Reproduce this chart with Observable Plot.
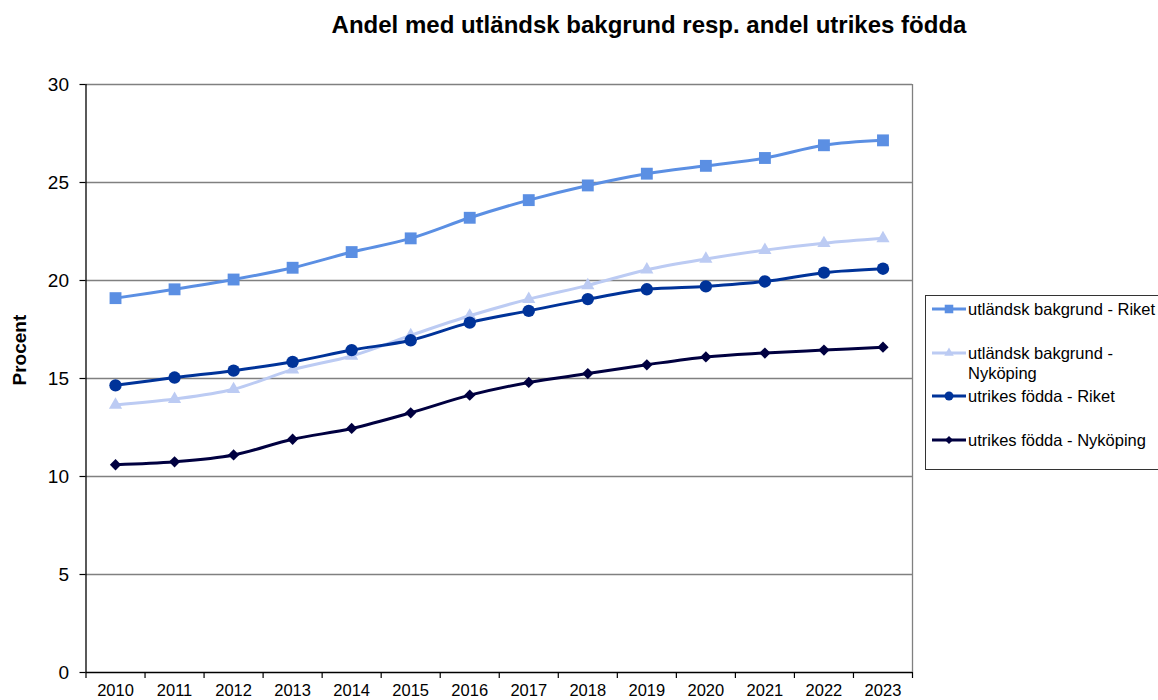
<!DOCTYPE html>
<html>
<head>
<meta charset="utf-8">
<script src="https://cdn.jsdelivr.net/npm/d3@7"></script>
<script src="https://cdn.jsdelivr.net/npm/@observablehq/plot@0.6"></script>
<style>
  body { margin: 0; background: #fff; font-family: "Liberation Sans", Arial, sans-serif; }
  #wrap { position: relative; width: 1158px; height: 700px; overflow: hidden; background: #fff; }
  #title { height: 60px; position: relative; }
  #title span { position: absolute; left: 649px; top: 13px; transform: translateX(-50%); white-space: nowrap;
    font-weight: bold; font-size: 24px; line-height: 24px; color: #000; }
  #legend { position: absolute; left: 925px; top: 295px; width: 233px; height: 173px; border: 1px solid #333; background: #fff; }
  .entry { position: absolute; left: 0; width: 233px; }
  .entry svg { position: absolute; left: 5px; top: 0; }
  .entry .lab { position: absolute; left: 42px; top: 0; width: 192px; font-size: 16.5px; line-height: 20px; color: #000; }
</style>
</head>
<body>
<div id="wrap">
  <div id="title"><span>Andel med utländsk bakgrund resp. andel utrikes födda</span></div>
  <div id="chart"></div>
  <div id="legend"></div>
</div>
<script>
// ---- data ----
const years = [2010, 2011, 2012, 2013, 2014, 2015, 2016, 2017, 2018, 2019, 2020, 2021, 2022, 2023];
const seriesNames = [
  "utländsk bakgrund - Riket",
  "utländsk bakgrund - Nyköping",
  "utrikes födda - Riket",
  "utrikes födda - Nyköping"
];
const utlandskRiket    = [19.1, 19.55, 20.05, 20.65, 21.45, 22.15, 23.2, 24.1, 24.85, 25.45, 25.85, 26.25, 26.9, 27.15];
const utlandskNykoping = [13.65, 13.95, 14.45, 15.45, 16.15, 17.2, 18.2, 19.05, 19.75, 20.55, 21.1, 21.55, 21.9, 22.15];
const utrikesRiket     = [14.65, 15.05, 15.4, 15.85, 16.45, 16.95, 17.85, 18.45, 19.05, 19.55, 19.7, 19.95, 20.4, 20.6];
const utrikesNykoping  = [10.6, 10.75, 11.1, 11.9, 12.45, 13.25, 14.15, 14.8, 15.25, 15.7, 16.1, 16.3, 16.45, 16.6];
const yTicks = [0, 5, 10, 15, 20, 25, 30];
const yLabel = "Procent";

// ---- styles ----
const seriesValues = [utlandskRiket, utlandskNykoping, utrikesRiket, utrikesNykoping];
const colors = ["#5B8FE3", "#BCCBF3", "#003399", "#000040"];
const symbols = ["square", "triangle", "circle", "square"];
const radii = [6.7, 4.9, 6.2, 4.5];
const rotations = [0, 0, 0, 45];

const series = seriesNames.map((name, i) => ({
  name, color: colors[i], symbol: symbols[i], r: radii[i], rotate: rotations[i],
  rows: years.map((year, j) => ({ year, value: seriesValues[i][j], series: name }))
}));

const x0 = years[0] - 0.5, x1 = years[years.length - 1] + 0.5;
const boundaries = [...years.map(y => y - 0.5), x1];

const marks = [
  Plot.gridY(yTicks.filter(d => d > 0), { stroke: "#808080", strokeOpacity: 1, strokeWidth: 1.3 }),
  Plot.ruleX([x1], { stroke: "#808080", strokeWidth: 1.3 }),
  Plot.ruleX([x0], { stroke: "#000", strokeWidth: 1.3 }),
  Plot.ruleY([0], { stroke: "#000", strokeWidth: 1.3 }),
  Plot.axisY(yTicks, { tickSize: 6, tickPadding: 11, fontSize: 19, label: null, strokeWidth: 1.2 }),
  Plot.axisX(boundaries, { tickSize: 6, tickFormat: () => "", label: null, strokeWidth: 1.2 }),
  Plot.axisX(years, { tickSize: 0, tickPadding: 12, fontSize: 16.5, tickFormat: d => String(d), label: null })
];
for (const s of series) {
  marks.push(Plot.line(s.rows, { x: "year", y: "value", stroke: s.color, strokeWidth: 3, curve: "catmull-rom" }));
}
for (const s of series) {
  marks.push(Plot.dot(s.rows, { x: "year", y: "value", fill: s.color, stroke: "none", symbol: s.symbol, r: s.r, rotate: s.rotate }));
}
marks.push(Plot.text([yLabel], { frameAnchor: "left", dx: -66, dy: 7, rotate: -90, fontWeight: "bold", fontSize: 19, fill: "#000" }));

const chart = Plot.plot({
  width: 1158, height: 640,
  marginTop: 24, marginBottom: 28, marginLeft: 85.5, marginRight: 246,
  style: { fontFamily: "'Liberation Sans', Arial, sans-serif", background: "#fff", color: "#000", overflow: "visible" },
  x: { type: "linear", domain: [x0, x1], label: null },
  y: { domain: [0, 30], label: null },
  marks
});
document.getElementById("chart").appendChild(chart);

// ---- legend ----
const legend = document.getElementById("legend");
const symMap = { square: d3.symbolSquare, triangle: d3.symbolTriangle, circle: d3.symbolCircle };
series.forEach((s, i) => {
  const cy = 13 + 43.7 * i;
  const entry = document.createElement("div");
  entry.className = "entry";
  entry.style.top = (cy - 10) + "px";
  const ns = "http://www.w3.org/2000/svg";
  const svg = document.createElementNS(ns, "svg");
  svg.setAttribute("width", 36); svg.setAttribute("height", 20);
  const line = document.createElementNS(ns, "line");
  line.setAttribute("x1", 1); line.setAttribute("x2", 35);
  line.setAttribute("y1", 10); line.setAttribute("y2", 10);
  line.setAttribute("stroke", s.color); line.setAttribute("stroke-width", 3);
  svg.appendChild(line);
  const p = document.createElementNS(ns, "path");
  const rr = s.r * 0.72;
  p.setAttribute("d", d3.symbol(symMap[s.symbol], Math.PI * rr * rr)());
  p.setAttribute("transform", `translate(18,10) rotate(${s.rotate})`);
  p.setAttribute("fill", s.color);
  svg.appendChild(p);
  entry.appendChild(svg);
  const lab = document.createElement("div");
  lab.className = "lab";
  lab.textContent = s.name;
  entry.appendChild(lab);
  legend.appendChild(entry);
});
</script>
</body>
</html>
